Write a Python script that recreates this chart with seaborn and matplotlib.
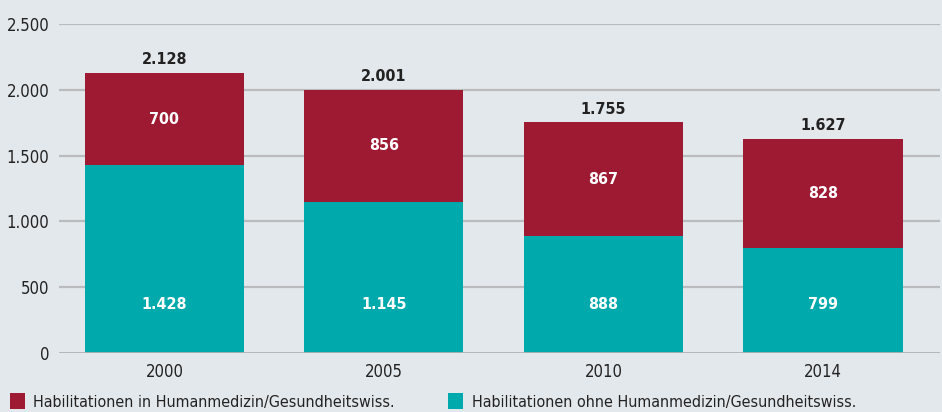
import matplotlib
matplotlib.use("Agg")
import matplotlib.pyplot as plt
import seaborn as sns
import pandas as pd
from matplotlib.patches import Rectangle

years = ["2000", "2005", "2010", "2014"]
human_med = [700, 856, 867, 828]
ohne_med = [1428, 1145, 888, 799]
totals = [h + o for h, o in zip(human_med, ohne_med)]
yticks = [0, 500, 1000, 1500, 2000, 2500]
ytick_labels = ["0", "500", "1.000", "1.500", "2.000", "2.500"]
legend_labels = ["Habilitationen in Humanmedizin/Gesundheitswiss.",
                 "Habilitationen ohne Humanmedizin/Gesundheitswiss."]

RED = "#9d1a32"
TEAL = "#00a9ac"
BG = "#e3e8ec"
GRID = "#b9bbbe"
TEXT = "#222222"

sns.set_style("white")
plt.rcParams["font.family"] = ["DejaVu Sans"]
plt.rcParams["font.stretch"] = "condensed"

df = pd.DataFrame({"year": years, "total": totals, "ohne": ohne_med, "human": human_med})

W, H = 942, 412
fig = plt.figure(figsize=(W / 100, H / 100), dpi=100, facecolor=BG)
ax = fig.add_axes([59 / W, 1 - 353 / H, 881 / W, 329 / H])
ax.set_facecolor(BG)

for y in yticks[1:]:
    ax.axhline(y, color=GRID, lw=1.6, zorder=0)
ax.axhline(0, color="#b0b2b5", lw=2.0, zorder=3)

sns.barplot(data=df, x="year", y="total", color=RED, width=0.725,
            saturation=1, linewidth=0, ax=ax, zorder=2)
sns.barplot(data=df, x="year", y="ohne", color=TEAL, width=0.725,
            saturation=1, linewidth=0, ax=ax, zorder=2)

def fmt(v):
    return f"{v:,}".replace(",", ".")

# lower-segment labels sit on a common line near the base
base_label_y = 365
for i in range(len(years)):
    ax.text(i, base_label_y, fmt(ohne_med[i]), ha="center", va="center",
            color="white", fontsize=11.5, fontweight="bold", zorder=4)
    ax.text(i, ohne_med[i] + human_med[i] / 2, fmt(human_med[i]), ha="center",
            va="center", color="white", fontsize=11.5, fontweight="bold", zorder=4)
    ax.text(i, totals[i] + 42, fmt(totals[i]), ha="center", va="bottom",
            color=TEXT, fontsize=11.5, fontweight="bold", zorder=4)

ax.set_xlim(-0.48, 3.533)
ax.set_ylim(0, 2500)
ax.set_yticks(yticks)
ax.set_yticklabels(ytick_labels)
ax.tick_params(axis="y", length=0, pad=7, labelsize=12, labelcolor=TEXT)
ax.tick_params(axis="x", length=0, pad=7, labelsize=12, labelcolor=TEXT)
ax.set_xlabel("")
ax.set_ylabel("")
for s in ax.spines.values():
    s.set_visible(False)

# legend row along the bottom edge
for (sq_x, txt_x), color, label in zip([(10, 33), (448, 472)], [RED, TEAL], legend_labels):
    fig.add_artist(Rectangle((sq_x / W, 3 / H), 15 / W, 16 / H, transform=fig.transFigure,
                             facecolor=color, edgecolor="none"))
    fig.text(txt_x / W, 4.5 / H, label, ha="left", va="baseline", fontsize=11.5, color=TEXT)

fig.savefig("out.png", dpi=100, facecolor=BG)
